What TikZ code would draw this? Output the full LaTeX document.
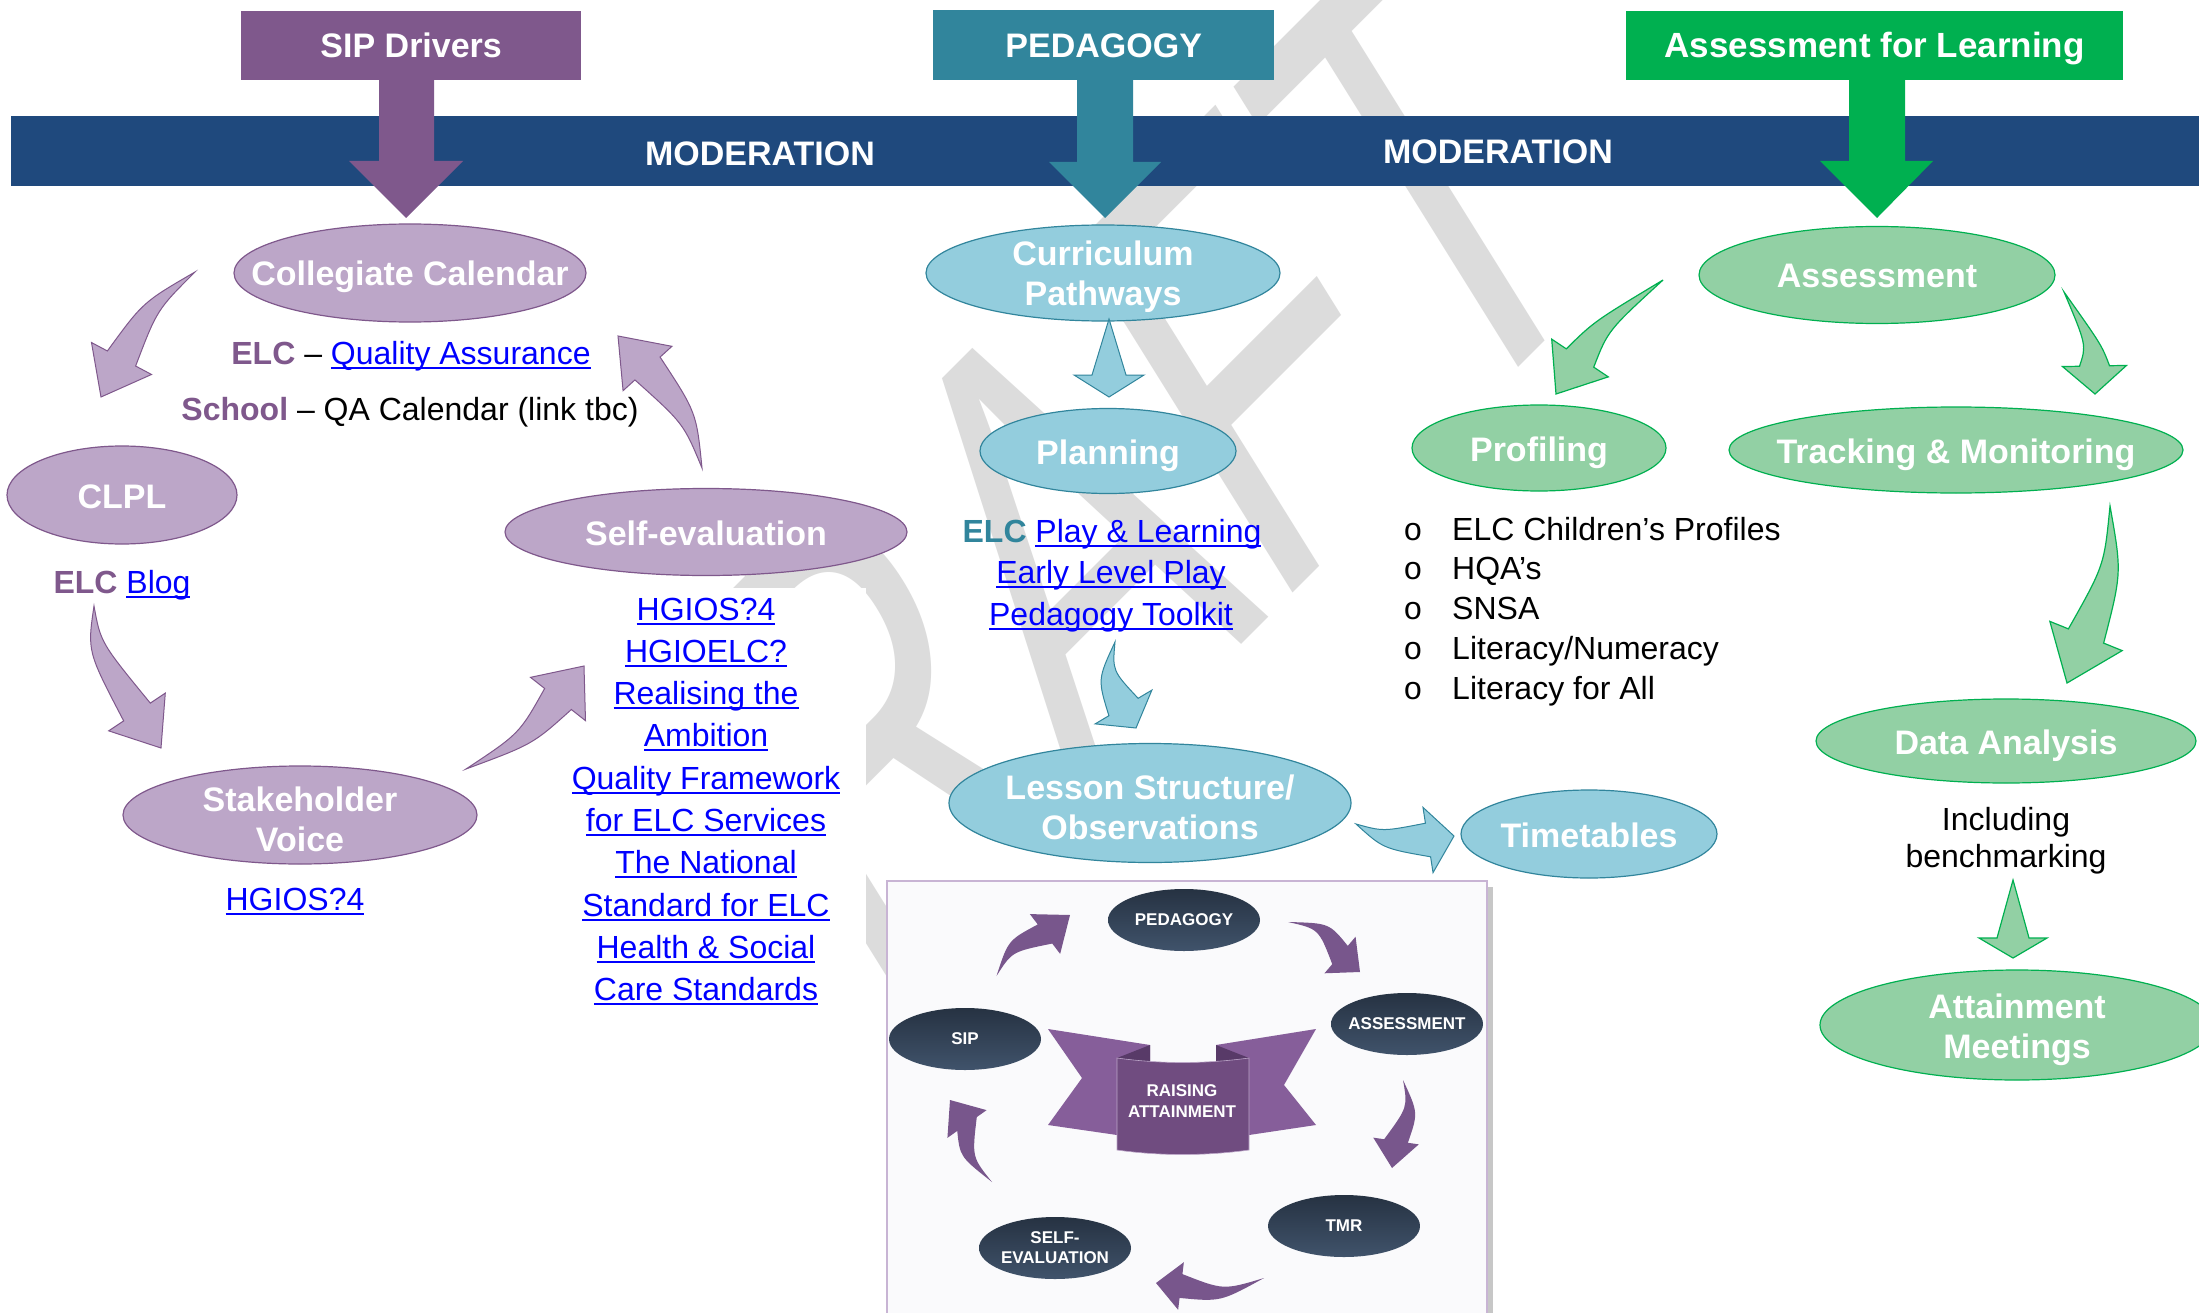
\documentclass[tikz,border=0pt]{standalone}
\usepackage{fontspec}
\setmainfont{Liberation Sans}
\setmonofont{Liberation Mono}
\usetikzlibrary{shapes.geometric,calc}

\definecolor{sippurple}{RGB}{127,88,140}
\definecolor{lpurple}{RGB}{188,166,200}
\definecolor{pedteal}{RGB}{49,133,156}
\definecolor{lblue}{RGB}{147,205,221}
\definecolor{aflgreen}{RGB}{0,176,80}
\definecolor{lgreen}{RGB}{146,208,164}
\definecolor{modblue}{RGB}{31,73,125}
\definecolor{linkblue}{RGB}{0,0,255}
\definecolor{wmgray}{RGB}{220,220,220}
\definecolor{navytop}{RGB}{38,50,66}
\definecolor{navybot}{RGB}{64,83,107}
\definecolor{iarrowc}{RGB}{120,86,140}
\definecolor{insetborder}{RGB}{200,180,212}
\definecolor{insetbg}{RGB}{250,250,252}
\definecolor{ribtail}{RGB}{134,94,154}
\definecolor{ribfold}{RGB}{88,58,104}
\definecolor{ribpanel}{RGB}{112,76,128}

\newcommand{\elfont}{\fontsize{34}{40}\selectfont\bfseries}
\newcommand{\bodyfont}{\fontsize{32}{40}\selectfont}
\newcommand{\lnk}[1]{\textcolor{linkblue}{\setbox0=\hbox{#1}\rlap{\rule[-4.5pt]{\wd0}{2pt}}\box0}}
\newcommand{\blockarrow}[7]{%
  \path[#1] (#2) .. controls ($(#3)!#6*0.5!-90:(#4)$) .. ($(#4)!#6!-90:(#5)$)
    -- ($(#4)!#7!-90:(#5)$) -- (#5) -- ($(#4)!#7!90:(#5)$) -- ($(#4)!#6!90:(#5)$)
    .. controls ($(#3)!#6*0.5!90:(#4)$) .. (#2) -- cycle;}

\begin{document}
\begin{tikzpicture}[x=1pt,y=-1pt,
  pel/.style={ellipse, draw=sippurple, fill=lpurple, line width=1.2pt, inner sep=0pt},
  bel/.style={ellipse, draw=pedteal, fill=lblue, line width=1.2pt, inner sep=0pt},
  gel/.style={ellipse, draw=aflgreen, fill=lgreen, line width=1.2pt, inner sep=0pt},
  eltext/.style={text=white, font=\elfont, align=center, inner sep=0pt},
  toptext/.style={text=white, font=\elfont, inner sep=0pt},
  bodytext/.style={font=\bodyfont, inner sep=0pt},
  nel/.style={ellipse, inner sep=0pt, top color=navytop, bottom color=navybot, draw=none},
  ntext/.style={text=white, font=\fontsize{17}{20}\selectfont\bfseries, align=center, inner sep=0pt},
  parrow/.style={fill=lpurple, draw=sippurple, line width=1pt},
  barrowst/.style={fill=lblue, draw=pedteal, line width=1pt},
  garrow/.style={fill=lgreen, draw=aflgreen, line width=1.2pt},
  iarrow/.style={fill=iarrowc},
  boxst/.style={inner sep=0pt, anchor=north west}
]
\useasboundingbox (0,0) rectangle (2199,1313);
\fill[white] (0,0) rectangle (2199,1313);

% watermark
\begin{scope}[shift={(1034,570)}]
\node[inner sep=0pt, text=wmgray, font=\fontsize{595}{600}\selectfont,
      cm={0.481,0.481,-0.53,0.85,(0,0)}, transform shape] (wm) at (0,0) {DRAFT};
\end{scope}
% white text boxes covering the watermark
\fill[white] (470,588) rectangle (866,1313);
\fill[white] (1337,498) rectangle (1790,712);

% moderation band
\node[boxst, fill=modblue, minimum width=2188.5pt, minimum height=70pt] (band) at (10.5,116) {};
\node[toptext, anchor=base] (mod1) at (760,166) {MODERATION};
\node[toptext, anchor=base] (mod2) at (1498,164) {MODERATION};

% top boxes with arrows
\node[boxst, fill=sippurple, minimum width=340pt, minimum height=69.5pt] (sipbox) at (241,10.5) {};
\fill[sippurple] (379,79) -- (379,161) -- (349,161) -- (406,218) -- (463,161) -- (434,161) -- (434,79) -- cycle;
\node[toptext, anchor=base] (siptxt) at ($(sipbox.center)+(0,12)$) {SIP Drivers};

\node[boxst, fill=pedteal, minimum width=341pt, minimum height=70pt] (pedbox) at (933,10) {};
\fill[pedteal] (1077,79) -- (1077,162) -- (1049,162) -- (1105,218) -- (1161,162) -- (1133,162) -- (1133,79) -- cycle;
\node[toptext, anchor=base] (pedtxt) at ($(pedbox.center)+(0,12)$) {PEDAGOGY};

\node[boxst, fill=aflgreen, minimum width=497pt, minimum height=69.5pt] (aflbox) at (1626,10.5) {};
\fill[aflgreen] (1849,79) -- (1849,161) -- (1820,161) -- (1877,218) -- (1933,161) -- (1905,161) -- (1905,79) -- cycle;
\node[toptext, anchor=base, font=\fontsize{35}{40}\selectfont\bfseries] (afltxt) at ($(aflbox.center)+(0,12)$) {Assessment for Learning};

% ---------- SIP column ----------
\node[pel, minimum width=352pt, minimum height=98pt] (cc) at (410,273) {};
\node[eltext, anchor=base] (cct) at ($(cc.center)+(0,13)$) {Collegiate Calendar};
\node[pel, minimum width=230pt, minimum height=98pt] (clpl) at (122,495) {};
\node[eltext, anchor=base] (clplt) at ($(clpl.center)+(0,13)$) {CLPL};
\node[pel, minimum width=402pt, minimum height=87pt] (se) at (706,532) {};
\node[eltext, anchor=base] (set) at ($(se.center)+(0,13)$) {Self-evaluation};
\node[pel, minimum width=354pt, minimum height=98pt] (sv) at (300,815) {};
\node[eltext] (svt) at ($(sv.center)+(0,4)$) {Stakeholder\\Voice};

\node[bodytext, anchor=base] (qa) at (411,364) {\textbf{\color{sippurple}ELC} – \lnk{Quality Assurance}};
\node[bodytext, anchor=base] (sch) at (410,420) {\textbf{\color{sippurple}School} – QA Calendar (link tbc)};
\node[bodytext, anchor=base] (blog) at (122,593) {\textbf{\color{sippurple}ELC} \lnk{Blog}};
\node[bodytext, anchor=base] (hg4) at (295,910) {\lnk{HGIOS?4}};

\foreach \t [count=\i from 0] in {HGIOS?4,HGIOELC?,Realising the,Ambition,Quality Framework,for ELC Services,The National,Standard for ELC,Health \& Social,Care Standards}
  \node[bodytext, anchor=base] (lk\i) at (706,620+42.3*\i) {\lnk{\t}};

\coordinate (a1t) at (195,272); \coordinate (a1p) at (101,397);
\coordinate (a2t) at (94,606);  \coordinate (a2p) at (161,748);
\coordinate (a3t) at (466,769); \coordinate (a3p) at (584,666);
\coordinate (a4t) at (702,468); \coordinate (a4p) at (618,336);
\blockarrow{parrow}{a1t}{150,306}{121.5,358.5}{a1p}{16pt}{34pt}
\blockarrow{parrow}{a2t}{94,647}{137,712}{a2p}{16pt}{34pt}
\blockarrow{parrow}{a3t}{526,739}{558,699}{a3p}{17pt}{35pt}
\blockarrow{parrow}{a4t}{690,418}{647.5,368.5}{a4p}{17pt}{33pt}

% ---------- Pedagogy column ----------
\node[bel, minimum width=354pt, minimum height=96pt] (cp) at (1103,273) {};
\node[eltext] (cpt) at ($(cp.center)+(0,4)$) {Curriculum\\Pathways};
\node[bel, minimum width=256pt, minimum height=85pt] (pl) at (1108,451) {};
\node[eltext, anchor=base] (plt) at ($(pl.center)+(0,13)$) {Planning};
\node[bel, minimum width=402pt, minimum height=119pt] (ls) at (1150,803) {};
\node[eltext] (lst) at ($(ls.center)+(0,4)$) {Lesson Structure/\\Observations};
\node[bel, minimum width=256pt, minimum height=88pt] (tt) at (1589,834) {};
\node[eltext, anchor=base] (ttt) at ($(tt.center)+(0,13)$) {Timetables};

\node[bodytext, anchor=base] (pl1) at (1112,542) {\textbf{\color{pedteal}ELC} \lnk{Play \& Learning}};
\node[bodytext, anchor=base] (pl2) at (1111,583) {\lnk{Early Level Play}};
\node[bodytext, anchor=base] (pl3) at (1111,625) {\lnk{Pedagogy Toolkit}};

\coordinate (b1t) at (1109,319); \coordinate (b1p) at (1109,397);
\coordinate (b2t) at (1115,642); \coordinate (b2p) at (1136,728);
\coordinate (b3t) at (1356,824); \coordinate (b3p) at (1454,836);
\blockarrow{barrowst}{b1t}{1109,347}{1109,375}{b1p}{17pt}{35pt}
\blockarrow{barrowst}{b2t}{1105,675}{1123.5,707}{b2p}{17pt}{33pt}
\blockarrow{barrowst}{b3t}{1383,840}{1428,840}{b3p}{17pt}{33pt}

% ---------- Assessment column ----------
\node[gel, minimum width=356pt, minimum height=97pt] (as) at (1877,275) {};
\node[eltext, anchor=base] (ast) at ($(as.center)+(0,13)$) {Assessment};
\node[gel, minimum width=254pt, minimum height=86pt] (pr) at (1539,448) {};
\node[eltext, anchor=base] (prt) at ($(pr.center)+(0,13)$) {Profiling};
\node[gel, minimum width=454pt, minimum height=86pt] (tm) at (1956,450) {};
\node[eltext, anchor=base] (tmt) at ($(tm.center)+(0,13)$) {Tracking \& Monitoring};
\node[gel, minimum width=380pt, minimum height=84pt] (da) at (2006,741) {};
\node[eltext, anchor=base] (dat) at ($(da.center)+(0,13)$) {Data Analysis};
\node[gel, minimum width=394pt, minimum height=110pt] (am) at (2017,1025) {};
\node[eltext] (amt) at ($(am.center)+(0,5)$) {Attainment\\Meetings};

\foreach \t [count=\i from 0] in {ELC Children’s Profiles,HQA’s,SNSA,Literacy/Numeracy,Literacy for All}{
  \node[bodytext, anchor=base] (bu\i) at (1413,540+39.8*\i) {\ttfamily o};
  \node[bodytext, anchor=base west] (bt\i) at (1452,540+39.8*\i) {\t};
}
\node[bodytext, anchor=base] (inc1) at (2006,830) {Including};
\node[bodytext, anchor=base] (inc2) at (2006,867) {benchmarking};

\coordinate (g1t) at (1663,280); \coordinate (g1p) at (1556,394);
\coordinate (g2t) at (2064,292); \coordinate (g2p) at (2095,394);
\coordinate (g3t) at (2110,506); \coordinate (g3p) at (2067,683);
\coordinate (g4t) at (2013,880); \coordinate (g4p) at (2013,958);
\blockarrow{garrow}{g1t}{1601,326}{1580,358}{g1p}{16.5pt}{34pt}
\blockarrow{garrow}{g2t}{2094,345}{2094.5,366}{g2p}{15pt}{32pt}
\blockarrow{garrow}{g3t}{2113,569}{2086,636}{g3p}{19pt}{39pt}
\blockarrow{garrow}{g4t}{2013,909}{2013,938}{g4p}{16pt}{34pt}

% ---------- inset picture ----------
\fill[black!22] (893,887) rectangle (1493,1320);
\node[boxst, draw=insetborder, line width=2pt, fill=insetbg, minimum width=600pt, minimum height=440pt] (inset) at (886,880) {};

\node[nel, minimum width=152pt, minimum height=62pt] (iped) at (1184,920) {};
\node[ntext] (ipedt) at (iped.center) {PEDAGOGY};
\node[nel, minimum width=152pt, minimum height=62pt] (iass) at (1407,1024) {};
\node[ntext] (iasst) at (iass.center) {ASSESSMENT};
\node[nel, minimum width=152pt, minimum height=62pt] (itmr) at (1344,1226) {};
\node[ntext] (itmrt) at (itmr.center) {TMR};
\node[nel, minimum width=152pt, minimum height=62pt] (iself) at (1055,1248) {};
\node[ntext] (iselft) at (iself.center) {SELF-\\EVALUATION};
\node[nel, minimum width=152pt, minimum height=62pt] (isip) at (965,1039) {};
\node[ntext] (isipt) at (isip.center) {SIP};

% ribbon
\fill[ribtail] (1048,1029) -- (1150,1045) -- (1150,1132) -- (1117,1135) -- (1048,1125) -- (1082,1078) -- cycle;
\fill[ribtail] (1316,1029) -- (1216,1045) -- (1216,1132) -- (1249,1135) -- (1316,1125) -- (1284,1085) -- cycle;
\fill[ribfold] (1117,1058) -- (1150,1045) -- (1150,1062) -- cycle;
\fill[ribfold] (1249,1058) -- (1216,1045) -- (1216,1062) -- cycle;
\path[fill=ribpanel, draw=lpurple, line width=0.6pt] (1117,1058) .. controls (1160,1064) and (1205,1064) .. (1249,1058)
  -- (1249,1150) .. controls (1205,1156) and (1160,1156) .. (1117,1150) -- cycle;
\node[ntext, font=\fontsize{17}{21}\selectfont\bfseries] (rib) at (1182,1101) {RAISING\\ATTAINMENT};

\coordinate (i1t) at (996.5,976); \coordinate (i1p) at (1070,915);
\coordinate (i2t) at (1288,922);  \coordinate (i2p) at (1360,972);
\coordinate (i3t) at (1403,1080); \coordinate (i3p) at (1392,1168);
\coordinate (i4t) at (1264,1278); \coordinate (i4p) at (1156,1283);
\coordinate (i5t) at (992,1182);  \coordinate (i5p) at (950,1100);
\blockarrow{iarrow}{i1t}{1010,946}{1045,934}{i1p}{12pt}{25pt}
\blockarrow{iarrow}{i2t}{1324,926}{1340,955}{i2p}{12pt}{24pt}
\blockarrow{iarrow}{i3t}{1413,1110}{1396,1141}{i3p}{12pt}{23pt}
\blockarrow{iarrow}{i4t}{1222,1296}{1181,1286}{i4p}{12pt}{24pt}
\blockarrow{iarrow}{i5t}{966,1157}{967,1124}{i5p}{12pt}{24pt}
\end{tikzpicture}
\end{document}
